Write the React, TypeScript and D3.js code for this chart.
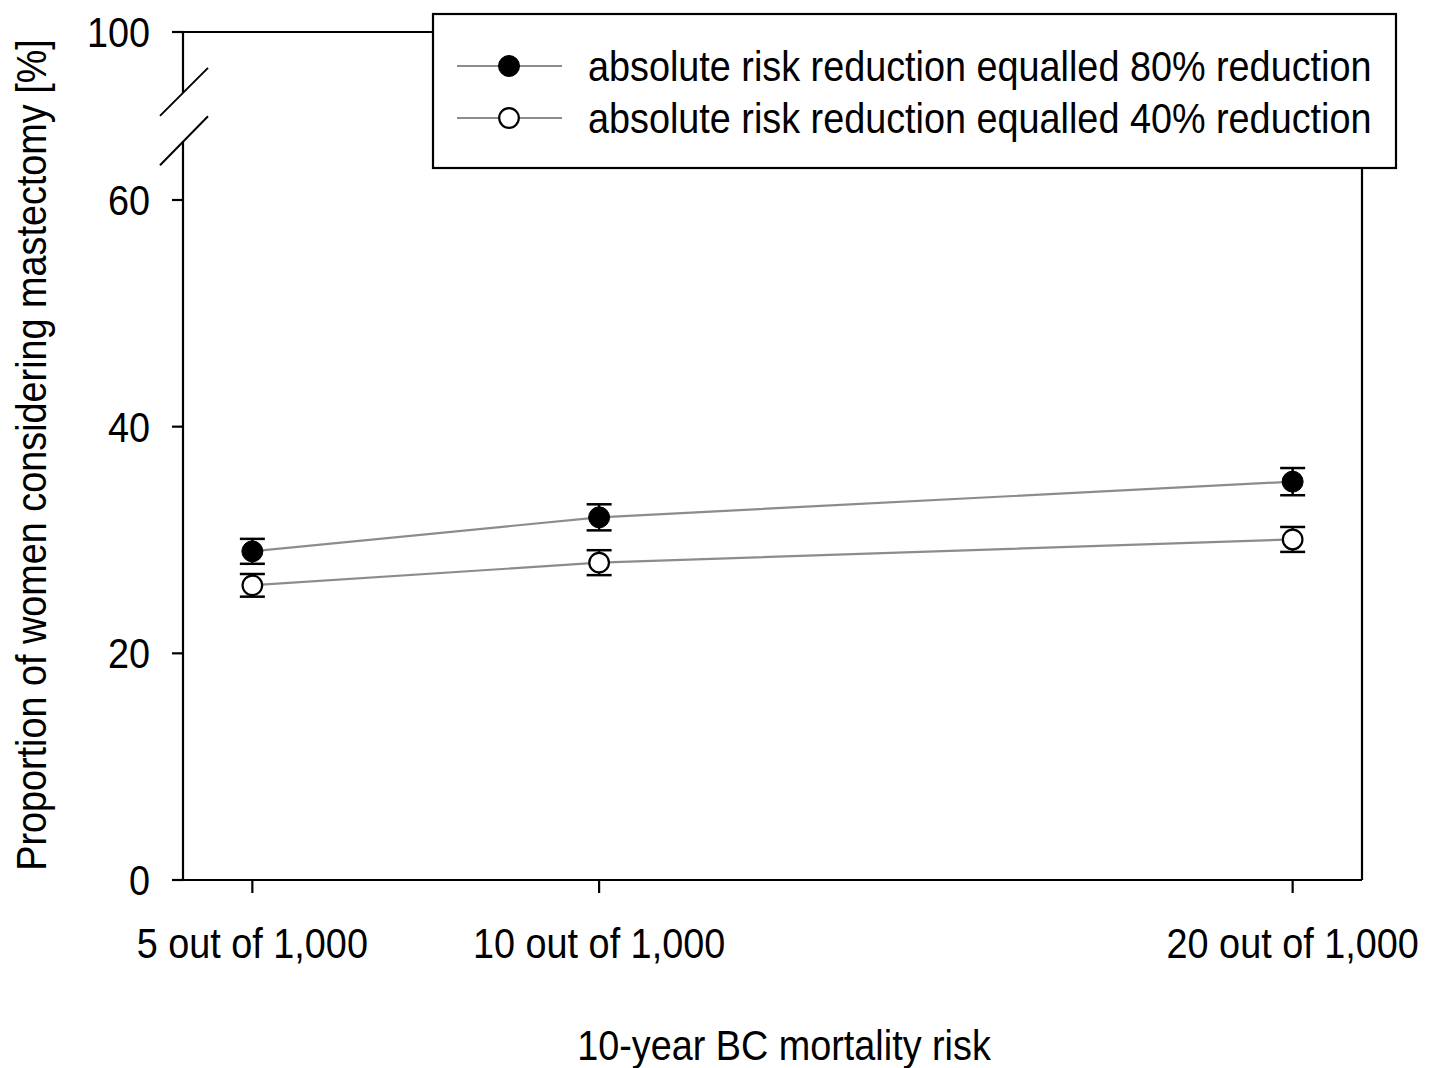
import React from "react";
import * as d3 from "d3";

const categories = [5, 10, 20];
const tickLabels = ["5 out of 1,000", "10 out of 1,000", "20 out of 1,000"];
const yTicks = [0, 20, 40, 60, 100];
const series80 = [29.0, 32.0, 35.15];
const err80 = [1.1, 1.15, 1.2];
const series40 = [26.0, 28.0, 30.05];
const err40 = [1.0, 1.1, 1.1];
const legendLabels = [
  "absolute risk reduction equalled 80% reduction",
  "absolute risk reduction equalled 40% reduction",
];
const breakRange = [74, 85.5];

const W = 1438;
const H = 1068;
const FONT = "'Liberation Sans Narrow', 'Arial Narrow', 'Liberation Sans', Arial, sans-serif";
const FS = 42;
const SX = 0.9;

export default function App() {
  const x = d3.scaleLinear().domain([4, 21]).range([183, 1362]);
  const y = d3.scaleLinear().domain([0, 60, 100]).range([880, 200, 32]);
  const line = d3
    .line<number>()
    .x((_, i) => x(categories[i]))
    .y((d) => y(d));

  const ax = x.range()[0];
  const right = x.range()[1];
  const bottom = y(0);
  const top = y(100);
  const b1 = y(breakRange[1]);
  const b0 = y(breakRange[0]);

  const renderSeries = (vals: number[], errs: number[], filled: boolean) => (
    <g>
      <path d={line(vals) || ""} fill="none" stroke="#8c8c8c" strokeWidth={2.2} />
      {vals.map((v, i) => {
        const cx = x(categories[i]);
        const yt = y(v + errs[i]);
        const yb = y(v - errs[i]);
        return (
          <g key={i}>
            <line x1={cx} x2={cx} y1={yt} y2={yb} stroke="#000" strokeWidth={2.5} />
            <line x1={cx - 12.5} x2={cx + 12.5} y1={yt} y2={yt} stroke="#000" strokeWidth={2.5} />
            <line x1={cx - 12.5} x2={cx + 12.5} y1={yb} y2={yb} stroke="#000" strokeWidth={2.5} />
            <circle
              cx={cx}
              cy={y(v)}
              r={filled ? 10.5 : 9.8}
              fill={filled ? "#000" : "#fff"}
              stroke="#000"
              strokeWidth={filled ? 1 : 2.2}
            />
          </g>
        );
      })}
    </g>
  );

  return (
    <div style={{ position: "absolute", left: 0, top: 0 }}>
      <svg width={W} height={H} style={{ display: "block", background: "#fff" }} fontFamily={FONT}>
        <rect x={0} y={0} width={W} height={H} fill="#fff" />
        {/* frame */}
        <line x1={ax} x2={right} y1={top} y2={top} stroke="#000" strokeWidth={2.2} />
        <line x1={right} x2={right} y1={top} y2={bottom} stroke="#000" strokeWidth={2.2} />
        <line x1={ax - 11} x2={right} y1={bottom} y2={bottom} stroke="#000" strokeWidth={2.2} />
        {/* y axis with break */}
        <line x1={ax} x2={ax} y1={bottom} y2={b0} stroke="#000" strokeWidth={2.2} />
        <line x1={ax} x2={ax} y1={b1} y2={top} stroke="#000" strokeWidth={2.2} />
        <line x1={ax - 23} x2={ax + 25} y1={b1 + 23} y2={b1 - 25} stroke="#000" strokeWidth={2} />
        <line x1={ax - 23} x2={ax + 25} y1={b0 + 24} y2={b0 - 25} stroke="#000" strokeWidth={2} />
        {yTicks.map((t) => (
          <g key={t}>
            <line x1={ax - 11} x2={ax} y1={y(t)} y2={y(t)} stroke="#000" strokeWidth={2.2} />
            <text
              transform={`translate(${ax - 33}, ${y(t)}) scale(${SX}, 1)`}
              dy="0.36em"
              textAnchor="end"
              fontSize={FS}
            >
              {t}
            </text>
          </g>
        ))}
        {categories.map((c, i) => (
          <g key={c}>
            <line x1={x(c)} x2={x(c)} y1={bottom} y2={bottom + 13} stroke="#000" strokeWidth={2.2} />
            <text
              transform={`translate(${x(c)}, 958) scale(${SX}, 1)`}
              textAnchor="middle"
              fontSize={FS}
            >
              {tickLabels[i]}
            </text>
          </g>
        ))}
        <text transform={`translate(784, 1060) scale(${SX}, 1)`} textAnchor="middle" fontSize={FS}>
          10-year BC mortality risk
        </text>
        <text
          transform={`translate(46, 455) rotate(-90) scale(${SX}, 1)`}
          textAnchor="middle"
          fontSize={FS}
        >
          Proportion of women considering mastectomy [%]
        </text>
        {renderSeries(series80, err80, true)}
        {renderSeries(series40, err40, false)}
        {/* legend */}
        <rect x={433} y={14} width={963} height={154} fill="#fff" stroke="#000" strokeWidth={2.2} />
        {legendLabels.map((lab, i) => {
          const ly = 66 + i * 52;
          return (
            <g key={i}>
              <line x1={457} x2={562} y1={ly} y2={ly} stroke="#8c8c8c" strokeWidth={2.2} />
              <circle
                cx={509}
                cy={ly}
                r={i === 0 ? 10.5 : 9.8}
                fill={i === 0 ? "#000" : "#fff"}
                stroke="#000"
                strokeWidth={i === 0 ? 1 : 2.2}
              />
              <text
                transform={`translate(588, ${ly}) scale(${SX}, 1)`}
                dy="0.36em"
                fontSize={FS}
              >
                {lab}
              </text>
            </g>
          );
        })}
      </svg>
    </div>
  );
}
